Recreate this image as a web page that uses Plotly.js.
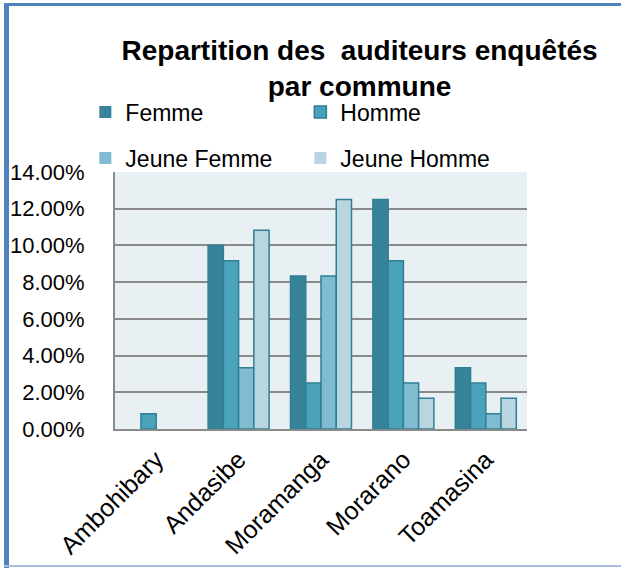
<!DOCTYPE html>
<html>
<head>
<meta charset="utf-8">
<script src="https://cdn.plot.ly/plotly-3.0.1.min.js"></script>
<style>
html,body{margin:0;padding:0;background:#fff;}
#wrap{position:relative;width:621px;height:569px;overflow:hidden;}
#chart{position:absolute;left:0;top:0;width:621px;height:569px;}
.b{position:absolute;pointer-events:none;}
</style>
</head>
<body>
<div id="wrap">
<div id="chart"></div>
<div class="b" style="left:4px;top:3px;width:617px;height:3px;background:#4F81BD;"></div>
<div class="b" style="left:4px;top:3px;width:5px;height:565px;background:#4F81BD;"></div>
<div class="b" style="left:4px;top:565px;width:617px;height:2px;background:#A7BFDE;"></div>
</div>
<script>
var communes = ["Ambohibary", "Andasibe", "Moramanga", "Morarano", "Toamasina"];
var femme = [0, 0.1000, 0.0833, 0.1250, 0.0333];
var homme = [0.0083, 0.0917, 0.0250, 0.0917, 0.0250];
var jeuneFemme = [0, 0.0333, 0.0833, 0.0250, 0.0083];
var jeuneHomme = [0, 0.1083, 0.1250, 0.0167, 0.0167];
var seriesNames = ["Femme", "Homme", "Jeune Femme", "Jeune Homme"];
var yTicks = [0, 0.02, 0.04, 0.06, 0.08, 0.10, 0.12, 0.14];

var colors = ["#37849A", "#4AA2BB", "#80BBD1", "#B8D5E0"];
var values = [femme, homme, jeuneFemme, jeuneHomme];
var legends = ["legend", "legend", "legend2", "legend2"];

var traces = values.map(function(v, i){
  return {
    type: "bar",
    name: seriesNames[i],
    x: communes,
    y: v,
    legend: legends[i],
    marker: {
      color: colors[i],
      line: {color: "#2F7F94", width: v.map(function(d){ return d > 0 ? 1.5 : 0; })}
    },
    hoverinfo: "x+y+name"
  };
});

var legendFont = {family: "Liberation Sans, Arial, sans-serif", size: 23, color: "#000"};

var layout = {
  width: 621, height: 569,
  margin: {l: 115, r: 94, t: 172, b: 140},
  paper_bgcolor: "#ffffff",
  plot_bgcolor: "#E9F0F4",
  barmode: "group",
  bargap: 0.26,
  bargroupgap: 0,
  showlegend: true,
  title: {
    text: "Repartition des \u00a0auditeurs enquêtés<br>par commune",
    font: {family: "Liberation Sans, Arial, sans-serif", size: 28, color: "#000", weight: "bold"},
    x: 0.579, xanchor: "center", xref: "container",
    y: 0.895, yanchor: "top", yref: "container"
  },
  legend: {
    orientation: "h", x: -0.072, xanchor: "left", y: 1.2335, yanchor: "middle",
    entrywidth: 170, entrywidthmode: "pixels",
    font: legendFont, bgcolor: "rgba(0,0,0,0)", itemclick: false, itemdoubleclick: false,
    traceorder: "normal"
  },
  legend2: {
    orientation: "h", x: -0.072, xanchor: "left", y: 1.0545, yanchor: "middle",
    entrywidth: 170, entrywidthmode: "pixels",
    font: legendFont, bgcolor: "rgba(0,0,0,0)", itemclick: false, itemdoubleclick: false,
    traceorder: "normal"
  },
  xaxis: {
    type: "category",
    tickangle: -45,
    tickfont: {family: "Liberation Sans, Arial, sans-serif", size: 25, color: "#000"},
    showline: true, linecolor: "#8A8A8A", linewidth: 2,
    showgrid: false, ticks: "", ticklabelstandoff: 4, fixedrange: true
  },
  yaxis: {
    range: [0, 0.14],
    tickvals: yTicks,
    tickformat: ".2%",
    tickfont: {family: "Liberation Sans, Arial, sans-serif", size: 22, color: "#000"},
    showline: true, linecolor: "#8A8A8A", linewidth: 2,
    showgrid: true, gridcolor: "#8A8A8A", gridwidth: 2,
    zeroline: false, ticks: "", ticklabelstandoff: 24, fixedrange: true
  }
};

Plotly.newPlot("chart", traces, layout, {displayModeBar: false, staticPlot: true});
</script>
</body>
</html>
